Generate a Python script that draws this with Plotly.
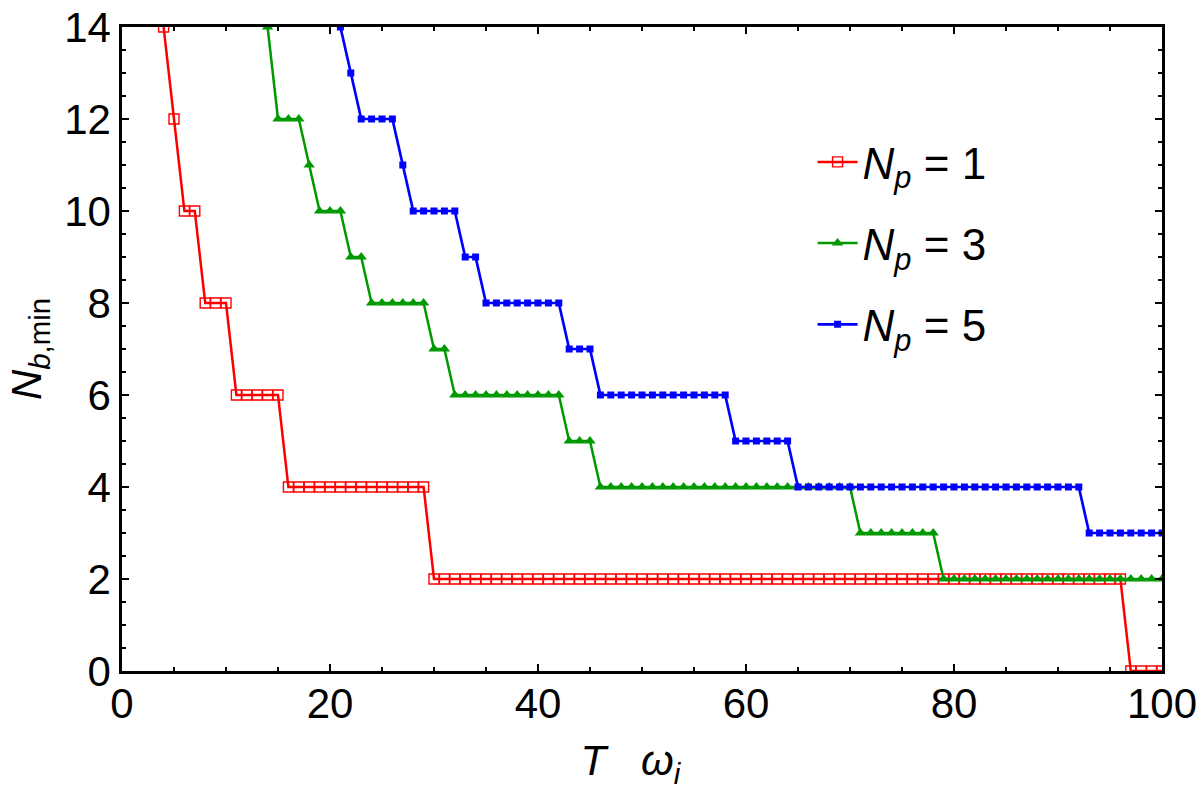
import plotly.graph_objects as go

# ---- data ----
red_T = list(range(4, 101))
red_y = [
    14, 12, 10, 10, 8, 8, 8, 6, 6, 6, 6, 6,
    4, 4, 4, 4, 4, 4, 4, 4, 4, 4, 4, 4, 4, 4,
    2, 2, 2, 2, 2, 2, 2, 2, 2, 2,
    2, 2, 2, 2, 2, 2, 2, 2, 2, 2,
    2, 2, 2, 2, 2, 2, 2, 2, 2, 2,
    2, 2, 2, 2, 2, 2, 2, 2, 2, 2,
    2, 2, 2, 2, 2, 2, 2, 2, 2, 2,
    2, 2, 2, 2, 2, 2, 2, 2, 2, 2,
    2, 2, 2, 2, 2, 2, 2,
    0, 0, 0, 0,
]

green_T = list(range(14, 101))
green_y = [
    14, 12, 12, 12, 11, 10, 10, 10, 9, 9,
    8, 8, 8, 8, 8, 8, 7, 7,
    6, 6, 6, 6, 6, 6, 6, 6, 6, 6, 6,
    5, 5, 5,
    4, 4, 4, 4, 4, 4, 4, 4, 4, 4, 4, 4, 4, 4, 4, 4, 4, 4, 4, 4, 4, 4, 4, 4, 4,
    3, 3, 3, 3, 3, 3, 3, 3,
    2, 2, 2, 2, 2, 2, 2, 2, 2, 2, 2, 2, 2, 2, 2, 2, 2, 2, 2, 2, 2, 2,
]

blue_T = list(range(21, 101))
blue_y = [
    14, 13, 12, 12, 12, 12, 11, 10, 10, 10, 10, 10, 9, 9,
    8, 8, 8, 8, 8, 8, 8, 8, 7, 7, 7,
    6, 6, 6, 6, 6, 6, 6, 6, 6, 6, 6, 6, 6,
    5, 5, 5, 5, 5, 5,
    4, 4, 4, 4, 4, 4, 4, 4, 4, 4, 4, 4, 4, 4, 4, 4, 4, 4, 4, 4, 4, 4, 4, 4, 4, 4, 4, 4,
    3, 3, 3, 3, 3, 3, 3, 3,
]

names = ["<i>N</i><sub><i>p</i></sub> = 1",
         "<i>N</i><sub><i>p</i></sub> = 3",
         "<i>N</i><sub><i>p</i></sub> = 5"]

FONT = "Liberation Sans, Arial, Helvetica, sans-serif"

fig = go.Figure()
fig.add_trace(go.Scatter(
    x=red_T, y=red_y, mode="lines+markers", name=names[0], legendgroup="a",
    line=dict(color="#FF0000", width=2.5),
    marker=dict(symbol="square-open", size=10, color="#FF0000", line=dict(width=1.4)),
))
fig.add_trace(go.Scatter(
    x=green_T, y=green_y, mode="lines+markers", name=names[1], legendgroup="b",
    line=dict(color="#009900", width=2.5),
    marker=dict(symbol="triangle-up", size=10, color="#009900"),
))
fig.add_trace(go.Scatter(
    x=blue_T, y=blue_y, mode="lines+markers", name=names[2], legendgroup="c",
    line=dict(color="#0000FF", width=2.7),
    marker=dict(symbol="square", size=7, color="#0000FF"),
))

axis_common = dict(
    showgrid=False, zeroline=False, showline=True, linecolor="black", linewidth=2.5,
    mirror="allticks", ticks="inside", ticklen=7, tickwidth=2, tickcolor="black",
    tickfont=dict(family=FONT, size=42, color="black"), automargin=False,
)

fig.update_xaxes(
    range=[0, 100], tickmode="linear", tick0=0, dtick=20, ticklabelstandoff=-6,
    minor=dict(ticks="inside", dtick=5, ticklen=4, tickwidth=2, tickcolor="black"),
    title=dict(text="<i>T&nbsp;&nbsp;&nbsp;ω<sub>i</sub></i>&nbsp;&nbsp;",
               font=dict(family=FONT, size=42, color="black"), standoff=20),
    **axis_common,
)
fig.update_yaxes(
    range=[0, 14], tickmode="linear", tick0=0, dtick=2,
    minor=dict(ticks="inside", dtick=0.5, ticklen=4, tickwidth=2, tickcolor="black"),
    title=dict(text="<i>N</i><sub><i>b</i>,min</sub>", font=dict(family=FONT, size=42, color="black"),
               standoff=10),
    **axis_common,
)

fig.update_layout(
    width=1200, height=800,
    margin=dict(l=122, r=38, t=27, b=129),
    plot_bgcolor="white", paper_bgcolor="white",
    font=dict(family=FONT, color="black"),
    legend=dict(x=0.664, y=0.845, xanchor="left", yanchor="top",
                font=dict(family=FONT, size=44, color="black"),
                bgcolor="rgba(0,0,0,0)", tracegroupgap=21, itemwidth=40),
)

fig.write_html("out.html")
